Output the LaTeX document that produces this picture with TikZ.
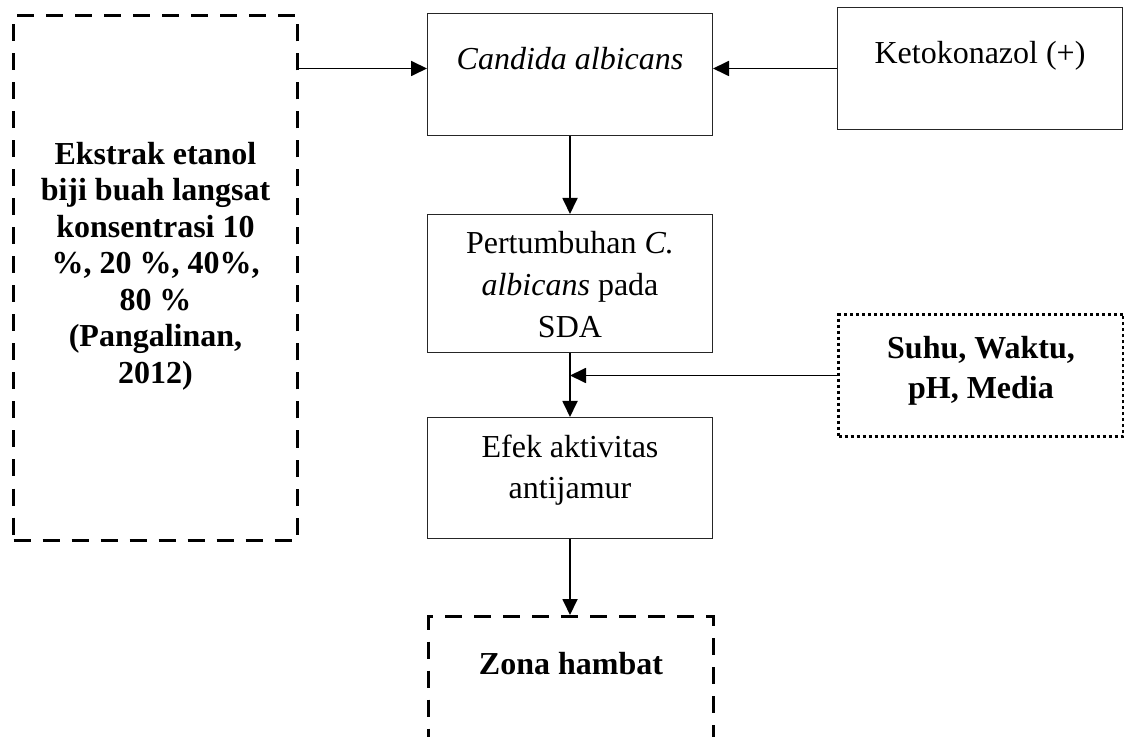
\documentclass[tikz,border=0pt]{standalone}
\usepackage{fontspec}
\setmainfont{Liberation Serif}
\usetikzlibrary{arrows.meta}

\begin{document}
\begin{tikzpicture}[x=0.5pt, y=-0.5pt, >={Triangle[length=8pt,width=7.5pt]},
  box/.style={draw=black!85, line width=0.5pt, align=flush center, inner sep=0pt, anchor=north west, text width=142.5pt, font=\fontsize{16}{21}\selectfont},
  dashbox/.style={box, draw=black, line width=1.5pt, dash pattern=on 8.5pt off 6pt, font=\bfseries\fontsize{16}{18.25}\selectfont},
  dotbox/.style={box, draw=black, line width=1.5pt, dash pattern=on 1.5pt off 1.5pt, font=\bfseries\fontsize{16}{20}\selectfont},
  arr/.style={->, line width=0.9pt}]
\path[use as bounding box] (0,0) rectangle (1124,737);
\clip (0,0) rectangle (1124,737);

%left box
\node[dashbox, text width=142pt, text height=74.5pt, text depth=188pt] (ekstrak) at (12,14)
  {Ekstrak etanol\\ biji buah langsat\\ konsentrasi 10\\ \%, 20 \%, 40\%,\\ 80 \%\\ (Pangalinan,\\ 2012)};

%top row
\node[box, text height=28pt, text depth=33pt] (cand) at (427,13) {\textit{Candida albicans}};
\node[box, text height=28pt, text depth=33pt] (keto) at (837,7) {Ketokonazol (+)};

%middle column
\node[box, text height=19.5pt, text depth=49.5pt] (pert) at (427,214)
  {Pertumbuhan \textit{C.}\\ \textit{albicans} pada\\ SDA};
\node[box, text height=20pt, text depth=40.5pt, font=\fontsize{16}{20.5}\selectfont] (efek) at (427,417)
  {Efek aktivitas\\ antijamur};
\node[dotbox, text height=22pt, text depth=39pt] (suhu) at (837,313) {Suhu, Waktu,\\ pH, Media};
\node[dashbox, text height=29pt, text depth=36pt] (zona) at (427,615) {Zona hambat};

%arrows
\draw[arr] (ekstrak.east |- keto.west) -- (keto.west -| cand.west);
\draw[arr] (keto.west) -- (keto.west -| cand.east);
\draw[arr] (cand.south) -- (cand.south |- pert.north);
\draw[arr] (pert.south) -- (pert.south |- efek.north);
\draw[arr] (suhu.west) -- (suhu.west -| pert.south);
\draw[arr] (efek.south) -- (efek.south |- zona.north);
\end{tikzpicture}
\end{document}
